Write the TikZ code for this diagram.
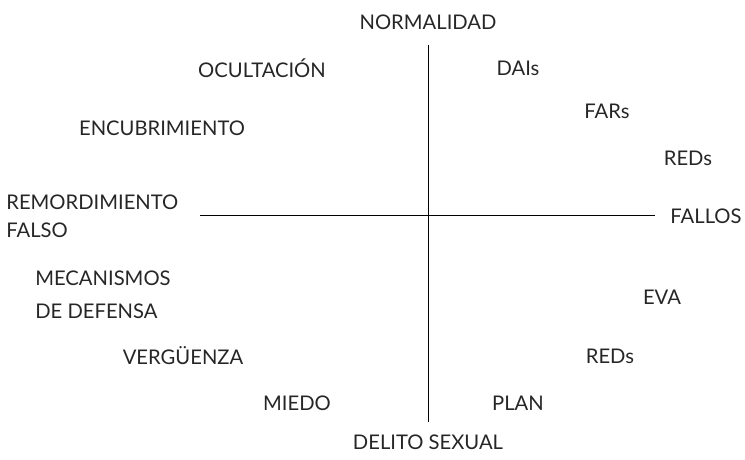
\documentclass[tikz,border=0pt]{standalone}
\usepackage{fontspec}
\setmainfont{Lato}
\usetikzlibrary{positioning}
\tikzset{
  lbl/.style={inner sep=0pt, font=\fontsize{11.5}{13}\selectfont, text=black!85},
  axis/.style={draw=black, line width=0.5pt}
}
\begin{document}
\begin{tikzpicture}[x=0.02cm, y=-0.02cm]
	\useasboundingbox (0,0) rectangle (745,460);
	\coordinate (ytop) at (428,45);
	\coordinate (ybot) at (428,422);
	\coordinate (xleft) at (200,215);
	\coordinate (xright) at (655,215);
	\draw[axis] (ytop)--(ybot);
	\draw[axis] (xleft)--(xright);
	\node[lbl] at (428,22) (norm) {NORMALIDAD};
	\node[lbl] at (428,442) (delito) {DELITO SEXUAL};
	\node[lbl] at (262,68) (ocult) {OCULTACI\'ON};
	\node[lbl] at (162,128) (encub) {ENCUBRIMIENTO};
	\node[lbl,align=left,anchor=west] at (6,216) (remord) {REMORDIMIENTO\\[3pt]FALSO};
	\node[lbl,align=left,anchor=west] at (35,295) (mecan) {MECANISMOS\\[6pt]DE DEFENSA};
	\node[lbl] at (183,356) (verg) {VERG\"UENZA};
	\node[lbl] at (297,403) (miedo) {MIEDO};
	\node[lbl] at (518,68) (dais) {DAIs};
	\node[lbl] at (607,111) (fars) {FARs};
	\node[lbl] at (688,158) (reds) {REDs};
	\node[lbl] at (706,216) (fallos) {FALLOS};
	\node[lbl] at (662,297) (eva) {EVA};
	\node[lbl] at (610,356) (reds2) {REDs};
	\node[lbl] at (518,403) (plan) {PLAN};
\end{tikzpicture}
\end{document}
